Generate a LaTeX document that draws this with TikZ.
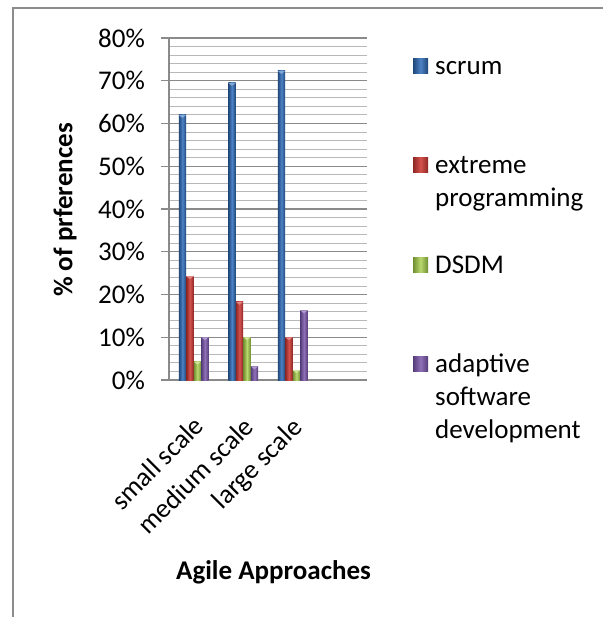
\documentclass[tikz,border=0pt]{standalone}
\usepackage{fontspec}
\setmainfont{Carlito}
\definecolor{framecol}{HTML}{8C8C8C}
\definecolor{majorgrid}{HTML}{8A8A8A}
\definecolor{minorgrid}{HTML}{B8B8B8}
\definecolor{blueD}{HTML}{1F4678}
\definecolor{blueL}{HTML}{4D82C4}
\definecolor{redD}{HTML}{8E2624}
\definecolor{redL}{HTML}{D4524E}
\definecolor{greenD}{HTML}{6F8E30}
\definecolor{greenL}{HTML}{B9D86E}
\definecolor{purpD}{HTML}{543C78}
\definecolor{purpL}{HTML}{9071B8}
\newcommand\chartbar[3]{%
  \shade[left color=#3D, right color=#3D, middle color=#3L] (#1,380) rectangle ({#1+7.4},{380-#2*4.275});
  \fill[#3L!70!white] (#1,{380-#2*4.275}) -- ({#1+3.7},{380-#2*4.275+3}) -- ({#1+7.4},{380-#2*4.275}) -- cycle;
}
\newcommand\legsq[2]{%
  \shade[left color=#2D, right color=#2D, middle color=#2L] (413,{#1-7.5}) rectangle (428,{#1+7.5});
}
\begin{document}
\begin{tikzpicture}[x=1pt,y=-1pt,font=\fontsize{27}{33}\selectfont,
  ticklab/.style={anchor=east,inner sep=0},
  catlab/.style={anchor=east,rotate=45,inner sep=0},
  leglab/.style={anchor=base west,inner sep=0},
  axtitle/.style={font=\fontsize{27}{33}\selectfont\bfseries,inner sep=0}]
\useasboundingbox (0,0) rectangle (603,617);
\fill[white] (0,0) rectangle (603,617);
% frame
\draw[framecol,line width=2] (603,8.5) -- (12.8,8.5) -- (12.8,617);
% minor gridlines (every 2%)
\foreach \k in {1,...,39}{
  \pgfmathsetmacro\yy{380-\k*8.55}
  \draw[minorgrid,line width=0.9] (169,\yy) -- (367,\yy);
}
% major gridlines, ticks and labels
\foreach \k/\lab in {0/0\%,1/10\%,2/20\%,3/30\%,4/40\%,5/50\%,6/60\%,7/70\%,8/80\%}{
  \pgfmathsetmacro\yy{380-\k*42.75}
  \draw[majorgrid,line width=1.3] (161,\yy) -- (367,\yy);
  \node[ticklab] (tick\k) at (145,\yy) {\lab};
}
% axes
\draw[majorgrid,line width=1.3] (169,38) -- (169,380);
\draw[majorgrid,line width=1.6] (161,380) -- (367,380);
% bars: group 1
\chartbar{178.75}{62}{blue}
\chartbar{186.25}{24.3}{red}
\chartbar{193.75}{4.3}{green}
\chartbar{201.25}{10}{purp}
% group 2
\chartbar{228.25}{69.5}{blue}
\chartbar{235.75}{18.3}{red}
\chartbar{243.25}{10}{green}
\chartbar{250.75}{3.2}{purp}
% group 3
\chartbar{277.75}{72.3}{blue}
\chartbar{285.25}{10}{red}
\chartbar{292.75}{2.3}{green}
\chartbar{300.25}{16.3}{purp}
% category labels
\node[catlab] (cat1) at (199,421) {small scale};
\node[catlab] (cat2) at (249,422) {medium scale};
\node[catlab] (cat3) at (299,424) {large scale};
% axis titles
\node[axtitle,rotate=90] (ytitle) at (65,210) {\% of prferences};
\node[axtitle] (xtitle) at (273.5,572) {Agile Approaches};
% legend
\legsq{66}{blue}
\legsq{165}{red}
\legsq{264.5}{green}
\legsq{364}{purp}
\node[leglab] (leg1) at (435,74.5) {scrum};
\node[leglab] (leg2a) at (435,173.5) {extreme};
\node[leglab] (leg2b) at (435,206.5) {programming};
\node[leglab] (leg3) at (435,273) {DSDM};
\node[leglab] (leg4a) at (435,372.5) {adaptive};
\node[leglab] (leg4b) at (435,405.5) {software};
\node[leglab] (leg4c) at (435,438.5) {development};
\end{tikzpicture}
\end{document}
